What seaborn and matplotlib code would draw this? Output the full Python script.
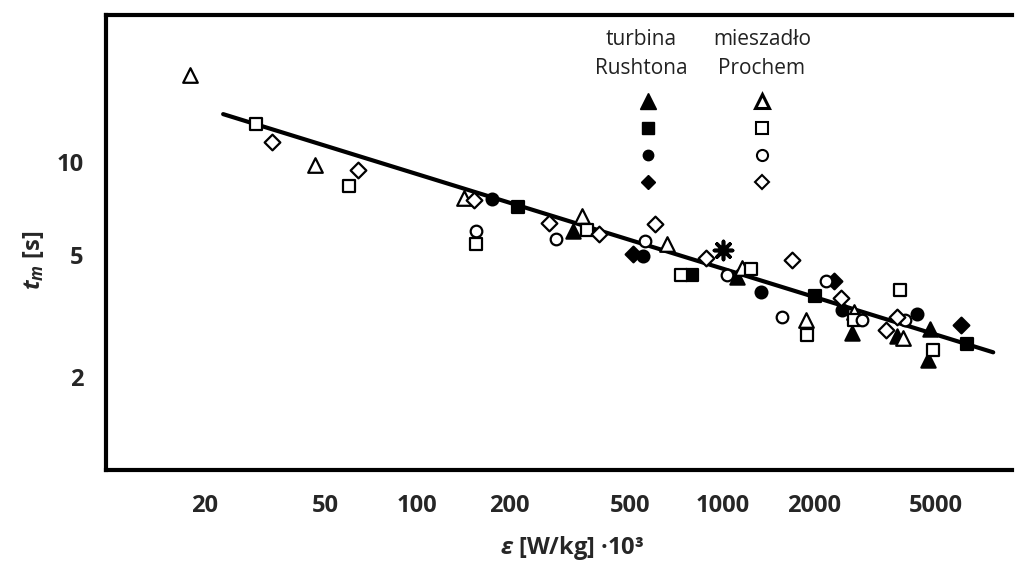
import matplotlib
matplotlib.use('Agg')
import pandas as pd
import seaborn as sns
import matplotlib.pyplot as plt
from matplotlib.lines import Line2D
from matplotlib.ticker import NullLocator, FixedLocator, FixedFormatter

# dane (epsilon [W/kg]*10^3, t_m [s])
rush_tri_x = [325, 1114, 2669, 3750, 4792, 4719]
rush_tri_y = [5.95, 4.24, 2.78, 2.73, 2.86, 2.27]
rush_sq_x = [214, 797, 2015, 6349]
rush_sq_y = [7.15, 4.31, 3.68, 2.56]
rush_ci_x = [176, 550, 1337, 2474, 4341]
rush_ci_y = [7.59, 4.96, 3.77, 3.30, 3.22]
rush_di_x = [509, 2328, 6066]
rush_di_y = [5.04, 4.12, 2.95]

proch_tri_x = [18, 46.1, 142, 346, 660, 1157, 1882, 2710, 3903]
proch_tri_y = [19.1, 9.78, 7.65, 6.69, 5.43, 4.54, 3.08, 3.25, 2.69]
proch_sq_x = [29.7, 59.7, 156, 359, 733, 1239, 1896, 2710, 3815, 4903]
proch_sq_y = [13.3, 8.36, 5.43, 6.02, 4.31, 4.50, 2.75, 3.06, 3.85, 2.46]
proch_ci_x = [156, 284, 558, 1033, 1568, 2191, 2880, 3963]
proch_ci_y = [5.98, 5.63, 5.55, 4.28, 3.15, 4.12, 3.06, 3.06]
proch_di_x = [33.3, 64, 153, 271, 393, 602, 887, 1692, 2455, 3729, 3430]
proch_di_y = [11.6, 9.42, 7.53, 6.35, 5.85, 6.30, 4.89, 4.82, 3.63, 3.13, 2.84]

star_x = [1002]
star_y = [5.19]

fit_x = [23.1, 7735]
fit_y = [14.3, 2.41]

x_ticks = [20, 50, 100, 200, 500, 1000, 2000, 5000]
y_ticks = [2, 5, 10, 20]
y_tick_labels = ['2', '5', '10', '']

sns.set_style('white')
plt.rcParams['font.family'] = ['Open Sans', 'DejaVu Sans']
plt.rcParams['mathtext.fontset'] = 'custom'
plt.rcParams['mathtext.it'] = 'Open Sans:italic:bold'
plt.rcParams['mathtext.rm'] = 'Open Sans:bold'

series = [
    (rush_tri_x, rush_tri_y, '^', True, 105),
    (rush_sq_x, rush_sq_y, 's', True, 68),
    (rush_ci_x, rush_ci_y, 'o', True, 72),
    (rush_di_x, rush_di_y, 'D', True, 64),
    (proch_tri_x, proch_tri_y, '^', False, 110),
    (proch_sq_x, proch_sq_y, 's', False, 84),
    (proch_ci_x, proch_ci_y, 'o', False, 70),
    (proch_di_x, proch_di_y, 'D', False, 64),
]

fig = plt.figure(figsize=(10.16, 5.68), dpi=100)
ax = fig.add_axes([106 / 1016, 98 / 568, 906 / 1016, 455 / 568])
ax.patch.set_visible(False)

sns.lineplot(x=fit_x, y=fit_y, color='black', linewidth=3, ax=ax, zorder=1)

for xs, ys, mk, filled, size in series:
    df = pd.DataFrame({'eps': xs, 'tm': ys})
    sns.scatterplot(data=df, x='eps', y='tm', marker=mk, s=size,
                    color='black' if filled else 'white',
                    edgecolor='black', linewidth=1.6, ax=ax, zorder=3)

sns.scatterplot(x=star_x, y=star_y, marker=(8, 2, 0), s=170, color='black',
                edgecolor='black', linewidth=2.6, ax=ax, zorder=3)

ax.set_xscale('log')
ax.set_yscale('log')
ax.set_xlim(9.54, 8913)
ax.set_ylim(1.0, 30)

ax.xaxis.set_major_locator(FixedLocator(x_ticks))
ax.xaxis.set_major_formatter(FixedFormatter([str(v) for v in x_ticks]))
ax.yaxis.set_major_locator(FixedLocator(y_ticks))
ax.yaxis.set_major_formatter(FixedFormatter(y_tick_labels))
ax.xaxis.set_minor_locator(NullLocator())
ax.yaxis.set_minor_locator(NullLocator())

ax.tick_params(axis='x', direction='in', length=14, width=1.4, pad=17,
               labelsize=17, color='black', top=False)
ax.tick_params(axis='y', direction='in', length=12, width=1.4, pad=16,
               labelsize=17, color='black', right=False)
for lab in ax.get_xticklabels() + ax.get_yticklabels():
    lab.set_fontweight('bold')

for side in ['left', 'top', 'bottom']:
    ax.spines[side].set_linewidth(3)
    ax.spines[side].set_color('black')
ax.spines['right'].set_visible(False)
ax.spines['right'].set_color('none')
ax.spines['right'].set_linewidth(0)

ax.set_xlabel(r'$\varepsilon$ [W/kg] ·10³', fontsize=17, fontweight='bold')
ax.set_ylabel('$t_m$ [s]', fontsize=17, fontweight='bold')
ax.xaxis.set_label_coords(0.515, -0.14)
ax.yaxis.set_label_coords(-0.066, 0.46)

# legenda: dwie kolumny znaczników
handles = [
    Line2D([], [], ls='none', marker='^', ms=11.5, mfc='black', mec='black'),
    Line2D([], [], ls='none', marker='s', ms=8, mfc='black', mec='black'),
    Line2D([], [], ls='none', marker='o', ms=7.5, mfc='black', mec='black'),
    Line2D([], [], ls='none', marker='D', ms=7.5, mfc='black', mec='black'),
    Line2D([], [], ls='none', marker='^', ms=10, mfc='white', mec='black', mew=2.2),
    Line2D([], [], ls='none', marker='s', ms=8.5, mfc='white', mec='black', mew=1.5),
    Line2D([], [], ls='none', marker='o', ms=8, mfc='white', mec='black', mew=1.5),
    Line2D([], [], ls='none', marker='D', ms=7.5, mfc='white', mec='black', mew=1.5),
]
ax.legend(handles=handles, labels=[''] * 8, ncol=2, frameon=False,
          fontsize=10, handlelength=1.5, handletextpad=0, columnspacing=6.7,
          labelspacing=0.87, borderpad=0, borderaxespad=0,
          loc='upper left', bbox_to_anchor=(0.587, 0.825))

ax.text(0.591, 0.914, 'turbina\nRushtona', transform=ax.transAxes,
        ha='center', va='center', multialignment='center', fontsize=15,
        linespacing=1.5, color='#222222')
ax.text(0.724, 0.914, 'mieszadło\nProchem', transform=ax.transAxes,
        ha='center', va='center', multialignment='center', fontsize=15,
        linespacing=1.5, color='#222222')

fig.savefig('out.png', dpi=100)
